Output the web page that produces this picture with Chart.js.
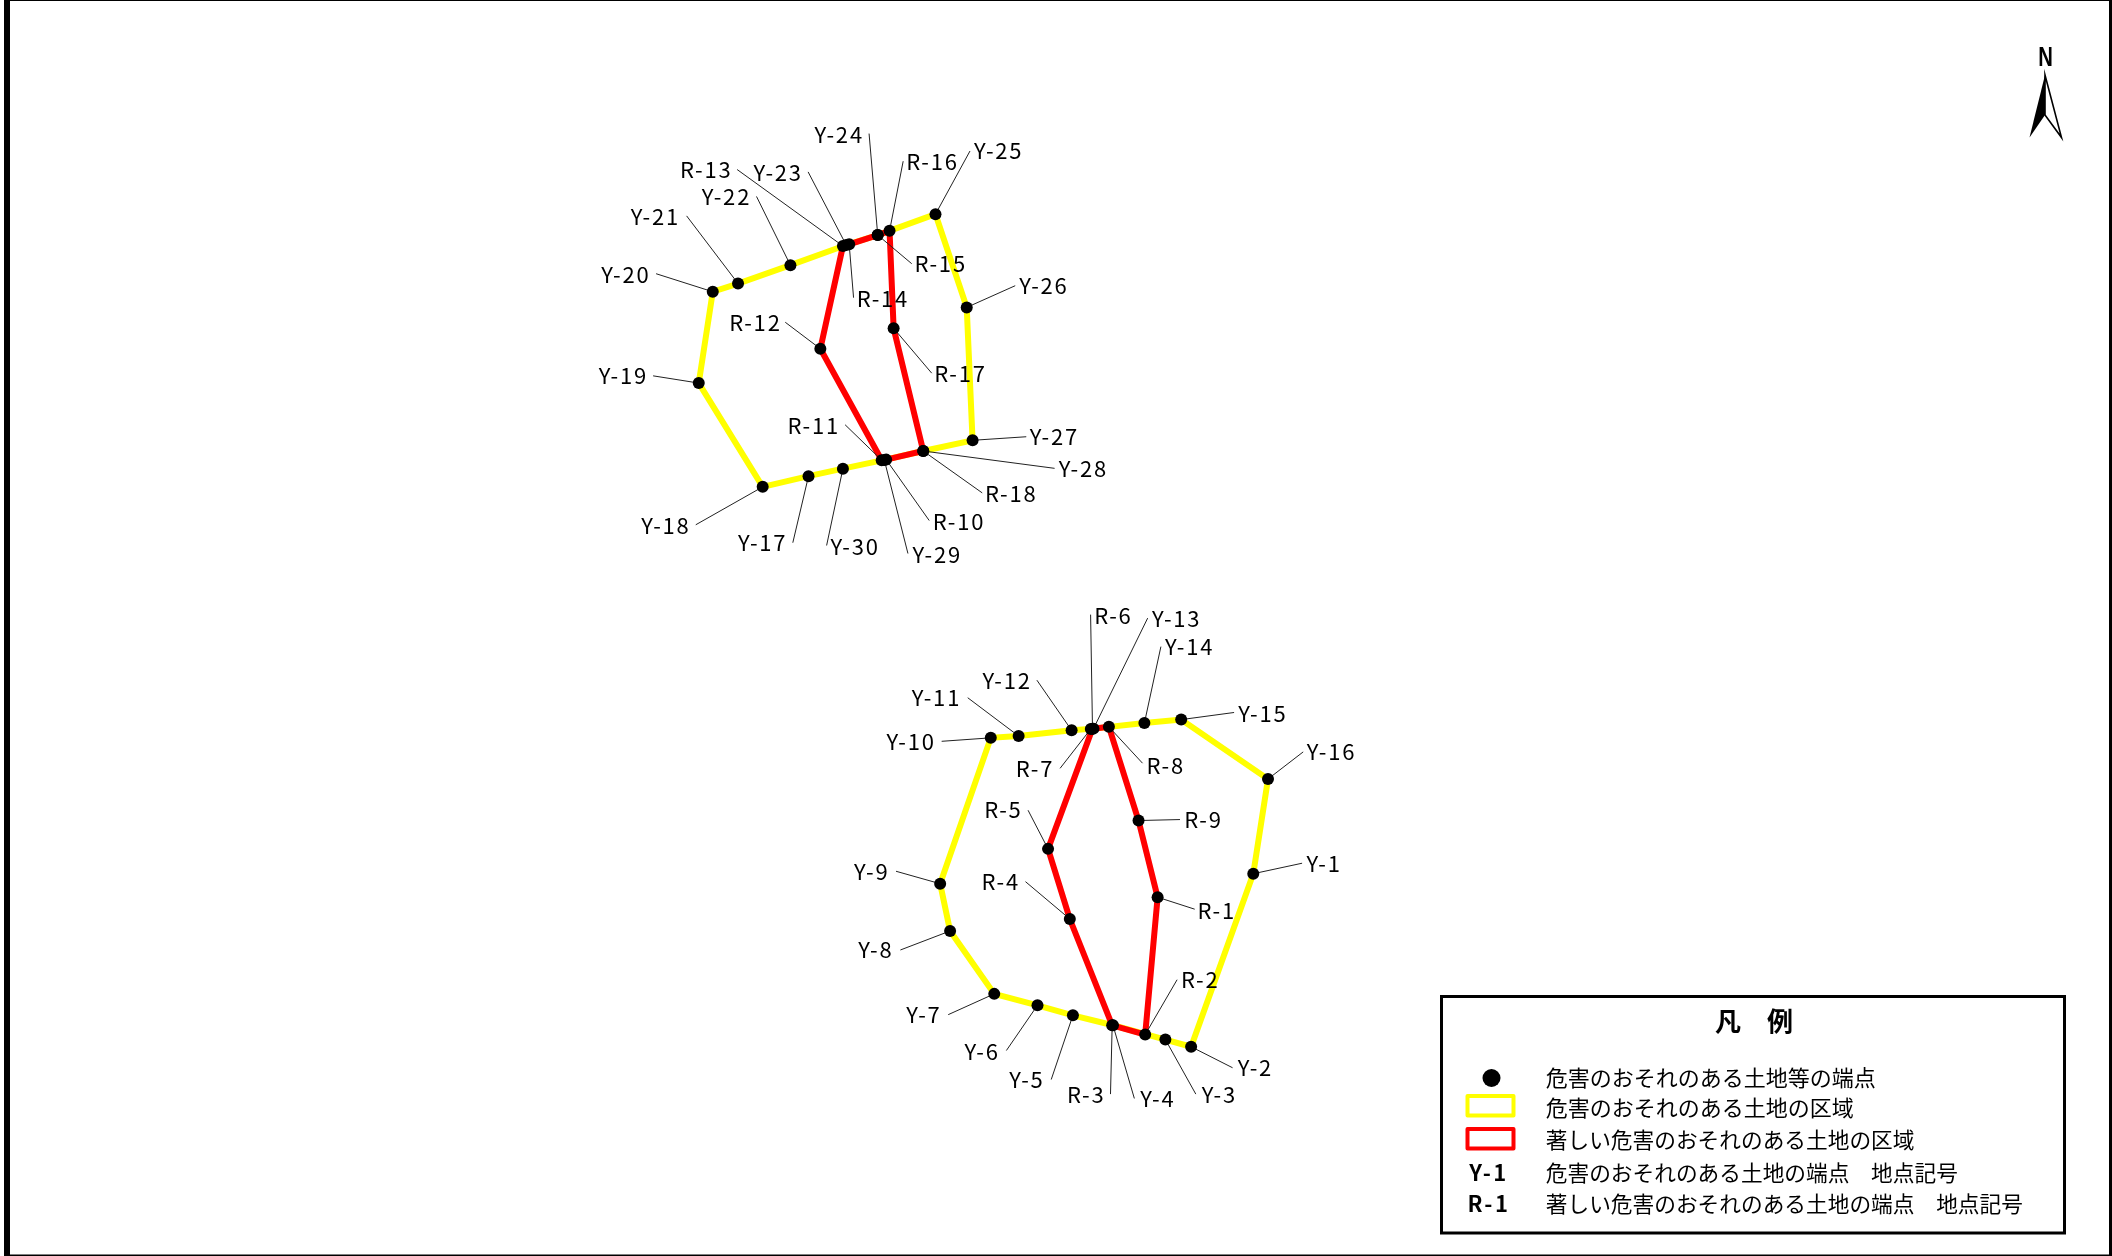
<!DOCTYPE html>
<html lang="ja">
<head>
<meta charset="utf-8">
<title>危害のおそれのある土地の区域図</title>
<script src="https://cdn.jsdelivr.net/npm/chart.js@4"></script>
<style>html,body{margin:0;padding:0;background:#fff}canvas{display:block}</style>
</head>
<body>
<canvas id="map" width="2112" height="1256"></canvas>
<script>
// Survey points, map units
const yellowSouthNames = ['Y-1','Y-2','Y-3','Y-4','Y-5','Y-6','Y-7','Y-8','Y-9','Y-10','Y-11','Y-12','Y-13','Y-14','Y-15','Y-16'];
const yellowSouthX = [1254.4,1191.9,1166,1113.3,1073,1037.4,993.9,949.5,939.5,990.4,1018.4,1071.7,1093.7,1144.9,1181.9,1269.2];
const yellowSouthY = [876.1,1050.8,1043.5,1029.1,1019.1,1008.9,997.4,933.9,886.2,738.9,737.1,731.3,729.6,724,720.5,780.5];

const redSouthNames = ['R-1','R-2','R-3','R-4','R-5','R-6','R-7','R-8','R-9'];
const redSouthX = [1158.2,1145.7,1112.5,1069.9,1048,1092.7,1091,1109.2,1139];
const redSouthY = [899.8,1038.5,1029.1,921.8,851,729.6,729.9,727.8,822.4];

const yellowNorthNames = ['Y-17','Y-18','Y-19','Y-20','Y-21','Y-22','Y-23','Y-24','Y-25','Y-26','Y-27','Y-28','Y-29','Y-30'];
const yellowNorthX = [807.1,761,696.7,710.8,736.2,788.9,845,876.7,934.8,966.2,972.1,922.5,883.3,841.7];
const yellowNorthY = [474.7,485.5,380.7,288.5,280.2,261.7,241.3,231.3,210.2,304.3,438.5,449.3,458.3,467.1];

const redNorthNames = ['R-10','R-11','R-12','R-13','R-14','R-15','R-16','R-17','R-18'];
const redNorthX = [885.2,880.7,819,841.7,848,876.7,888.6,892.7,922.5];
const redNorthY = [458,458.6,346.1,242.3,240.6,231.3,227,325.4,449.3];

// Leader line outer ends, same order as the names above
const yellowSouthTipX = [1303.5,1233.6,1196.6,1134.8,1051.2,1006.1,947.6,899.5,895.1,941,967.2,1036.8,1148.2,1161.5,1235.1,1304.6];
const yellowSouthTipY = [865.5,1072,1098.6,1103,1083.9,1054.6,1018.4,953.1,873.6,742.4,698.4,680.7,618,646.8,713.3,753.1];
const redSouthTipX = [1195.5,1177.8,1110.8,1025.3,1027.9,1090.8,1060.1,1143,1180.7];
const redSouthTipY = [911.9,983.1,1098.6,884.1,812,614.5,769.7,764.5,821.4];
const yellowNorthTipX = [791.3,693.7,650.8,653.8,684.5,754.8,806.7,868,969.5,1015,1026.1,1054.6,907.1,825.3];
const yellowNorthTipY = [541.9,523.8,373.4,270.3,211.9,192.3,167.5,128.8,146.4,282.4,434.9,466.8,552.8,544.7];
const redNorthTipX = [928.5,843.9,783.7,735.3,852.4,910.9,902.3,931,981.8];
const redNorthTipY = [519.5,422.8,319.3,165.1,294.5,260.2,156.7,370.7,491.6];

// Label centres, same order as the names above
const yellowSouthTextX = [1325.7,1256.6,1220.3,1158.5,1026.8,981.7,923.2,874.8,870.7,910.3,935.8,1006.8,1177.4,1190.3,1264,1333.1];
const yellowSouthTextY = [865.9,1072.3,1099.3,1103.4,1083.9,1055.6,1018.7,953.2,873.9,742.7,698.7,681,618.3,646.8,714.6,753.1];
const redSouthTextX = [1217.7,1201,1086.4,1000.5,1003.1,1113.7,1034.9,1166.3,1204.4];
const redSouthTextY = [913,983.4,1098.9,884.4,811.3,615.2,770.4,766.6,821.4];
const yellowNorthTextX = [761,663.7,620.9,623.4,653,724.6,776.6,838,998.4,1043.9,1054.3,1083.5,936.6,853.9];
const yellowNorthTextY = [542.3,524.5,373.7,270.9,212.4,192.3,168.1,129.8,146.4,282.7,434.9,467.4,554.4,545.4];
const redNorthTextX = [958.4,812.3,753.7,704.2,881.9,940,931.8,959.9,1011];
const redNorthTextY = [520.2,423.5,319.3,164.8,295.4,260.2,157.4,371.4,492.6];

const legendTitle = '凡　例';
const legendRows = [
  '危害のおそれのある土地等の端点',
  '危害のおそれのある土地の区域',
  '著しい危害のおそれのある土地の区域',
  '危害のおそれのある土地の端点　地点記号',
  '著しい危害のおそれのある土地の端点　地点記号'
];
const legendCodes = ['Y-1','R-1'];

const YELLOW = '#ffff00', RED = '#ff0000', FONT = '"Noto Sans CJK JP"';

const groups = [
  {names:yellowSouthNames,x:yellowSouthX,y:yellowSouthY,tx:yellowSouthTipX,ty:yellowSouthTipY,lx:yellowSouthTextX,ly:yellowSouthTextY,color:YELLOW,order:4},
  {names:yellowNorthNames,x:yellowNorthX,y:yellowNorthY,tx:yellowNorthTipX,ty:yellowNorthTipY,lx:yellowNorthTextX,ly:yellowNorthTextY,color:YELLOW,order:4},
  {names:redSouthNames,x:redSouthX,y:redSouthY,tx:redSouthTipX,ty:redSouthTipY,lx:redSouthTextX,ly:redSouthTextY,color:RED,order:3},
  {names:redNorthNames,x:redNorthX,y:redNorthY,tx:redNorthTipX,ty:redNorthTipY,lx:redNorthTextX,ly:redNorthTextY,color:RED,order:3}
];

const datasets = [];
groups.forEach(g => {
  const ring = g.x.map((v,i) => ({x:v,y:g.y[i]}));
  ring.push({x:g.x[0],y:g.y[0]});
  datasets.push({label:g.names[0]+' 区域',data:ring,showLine:true,borderColor:g.color,borderWidth:6,
    borderJoinStyle:'miter',pointRadius:0,order:g.order,fill:false,tension:0});
  g.x.forEach((v,i) => datasets.push({label:g.names[i]+' 引出線',
    data:[{x:v,y:g.y[i]},{x:g.tx[i],y:g.ty[i]}],showLine:true,borderColor:'#222222',borderWidth:1,pointRadius:0,order:2}));
  datasets.push({label:g.names[0]+' 端点',data:g.x.map((v,i)=>({x:v,y:g.y[i]})),showLine:false,
    pointRadius:6,pointBackgroundColor:'#000',pointBorderWidth:0,order:1});
});

const mapDecor = {
  id:'mapDecor',
  beforeDraw(c){ const k=c.ctx; k.save(); k.fillStyle='#fff'; k.fillRect(0,0,c.width,c.height); k.restore(); },
  afterDraw(c){
    const k=c.ctx, sx=c.scales.x, sy=c.scales.y;
    k.save();
    // point labels
    k.fillStyle='#000'; k.textAlign='center'; k.textBaseline='middle';
    k.font='22px '+FONT; k.letterSpacing='1.8px';
    groups.forEach(g=>g.names.forEach((n,i)=>k.fillText(n,sx.getPixelForValue(g.lx[i]),sy.getPixelForValue(g.ly[i]))));
    k.letterSpacing='0px';
    // sheet frame
    k.fillRect(4,0,6,1256); k.fillRect(4,0,2108,1); k.fillRect(4,1254.5,2108,1.5); k.fillRect(2109,0,3,1256);
    // north arrow
    k.save(); k.translate(2045.5,59); k.scale(0.75,1);
    k.font='bold 27px "Liberation Sans"'; k.fillText('N',0,0); k.restore();
    k.beginPath(); k.moveTo(2045,75); k.lineTo(2029.5,137.5); k.lineTo(2045,115); k.closePath(); k.fill();
    k.beginPath(); k.moveTo(2045,75); k.lineTo(2061.5,137.5); k.lineTo(2045,115); k.closePath();
    k.lineWidth=1.6; k.strokeStyle='#000'; k.stroke();
    // legend
    k.lineWidth=3; k.strokeRect(1441.5,996.5,623,236.5);
    k.font='bold 26px '+FONT; k.fillText(legendTitle,1754,1021);
    k.beginPath(); k.ellipse(1491.5,1078,9,9,0,0,Math.PI*2); k.fill();
    k.lineWidth=4; k.lineJoin='round';
    k.strokeStyle=YELLOW; k.strokeRect(1467.5,1096,46,19.5);
    k.strokeStyle=RED; k.strokeRect(1467.5,1129,46,19.5);
    k.font='bold 22px '+FONT; k.letterSpacing='2.5px';
    k.fillText(legendCodes[0],1489,1173); k.fillText(legendCodes[1],1489,1204);
    k.letterSpacing='0px'; k.textAlign='left';
    [1077.8,1108,1139.5,1173,1204].forEach((y,i)=>{
      k.font=(i>=2?'21.7px ':'22px ')+FONT;
      k.fillText(legendRows[i],1545.8,y);
    });
    k.restore();
  }
};

new Chart(document.getElementById('map').getContext('2d'),{
  type:'scatter',
  data:{datasets},
  options:{
    responsive:false,devicePixelRatio:1,animation:false,
    layout:{padding:0},
    plugins:{legend:{display:false},tooltip:{enabled:false},title:{display:false}},
    scales:{
      x:{type:'linear',min:0,max:2112,display:false},
      y:{type:'linear',min:0,max:1256,reverse:true,display:false}
    }
  },
  plugins:[mapDecor]
});
</script>
</body>
</html>
